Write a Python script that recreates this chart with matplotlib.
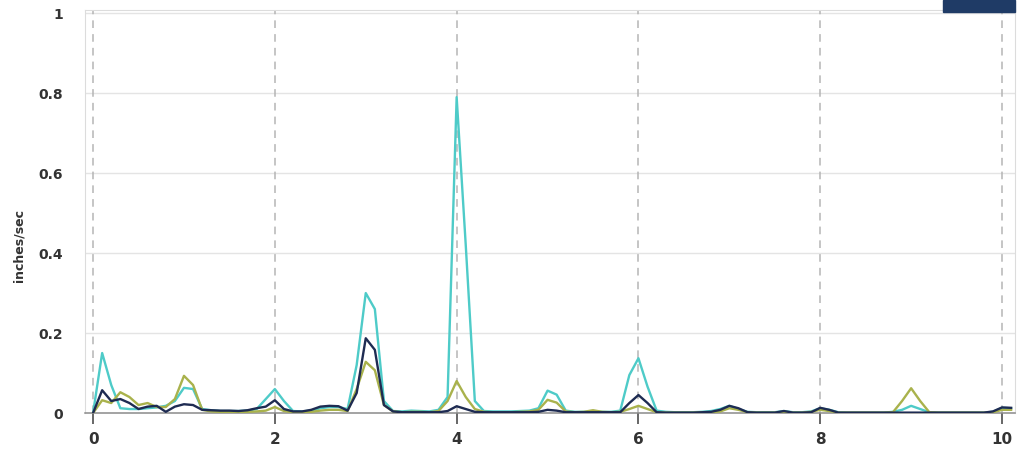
import numpy as np
import matplotlib.pyplot as plt
from matplotlib.patches import Rectangle

# sample positions (step 0.1) and the three traces
freq = np.round(np.arange(0, 102) * 0.1, 1)

trace_cyan = [
    0.0, 0.15, 0.07, 0.012, 0.01, 0.01, 0.012, 0.014, 0.018, 0.03,
    0.063, 0.06, 0.01, 0.007, 0.005, 0.005, 0.005, 0.006, 0.01, 0.035,
    0.06, 0.03, 0.005, 0.004, 0.006, 0.012, 0.015, 0.015, 0.01, 0.12,
    0.30, 0.26, 0.03, 0.005, 0.004, 0.006, 0.005, 0.004, 0.008, 0.04,
    0.79, 0.42, 0.03, 0.005, 0.004, 0.004, 0.004, 0.005, 0.006, 0.012,
    0.056, 0.046, 0.006, 0.003, 0.003, 0.004, 0.003, 0.003, 0.006, 0.095,
    0.137, 0.066, 0.006, 0.003, 0.002, 0.002, 0.002, 0.003, 0.005, 0.01,
    0.018, 0.01, 0.003, 0.002, 0.002, 0.002, 0.005, 0.002, 0.002, 0.004,
    0.012, 0.008, 0.002, 0.001, 0.001, 0.001, 0.001, 0.001, 0.003, 0.008,
    0.018, 0.01, 0.002, 0.001, 0.001, 0.001, 0.001, 0.001, 0.001, 0.003,
    0.013, 0.012,
]

trace_olive = [
    0.0, 0.032, 0.025, 0.052, 0.04, 0.02, 0.025, 0.015, 0.015, 0.035,
    0.093, 0.07, 0.008, 0.004, 0.003, 0.003, 0.003, 0.003, 0.004, 0.006,
    0.015, 0.005, 0.002, 0.002, 0.003, 0.006, 0.008, 0.008, 0.005, 0.06,
    0.128, 0.107, 0.02, 0.004, 0.002, 0.003, 0.003, 0.002, 0.005, 0.03,
    0.08, 0.04, 0.01, 0.003, 0.002, 0.002, 0.002, 0.003, 0.004, 0.008,
    0.033, 0.026, 0.004, 0.002, 0.003, 0.007, 0.003, 0.002, 0.003, 0.01,
    0.018, 0.01, 0.002, 0.001, 0.001, 0.001, 0.001, 0.002, 0.002, 0.004,
    0.012, 0.008, 0.002, 0.001, 0.001, 0.001, 0.003, 0.001, 0.001, 0.003,
    0.008, 0.005, 0.001, 0.001, 0.001, 0.001, 0.001, 0.001, 0.002, 0.03,
    0.062, 0.03, 0.002, 0.001, 0.001, 0.001, 0.001, 0.001, 0.001, 0.002,
    0.008, 0.008,
]

trace_navy = [
    0.0, 0.057, 0.03, 0.035, 0.025, 0.01, 0.016, 0.018, 0.003, 0.016,
    0.022, 0.02, 0.008, 0.007, 0.006, 0.006, 0.005, 0.007, 0.012, 0.016,
    0.032, 0.01, 0.004, 0.004, 0.008, 0.016, 0.018, 0.017, 0.006, 0.05,
    0.187, 0.158, 0.02, 0.004, 0.002, 0.002, 0.002, 0.002, 0.002, 0.005,
    0.017, 0.01, 0.003, 0.002, 0.002, 0.002, 0.002, 0.002, 0.002, 0.003,
    0.008, 0.006, 0.002, 0.002, 0.002, 0.002, 0.002, 0.002, 0.002, 0.025,
    0.045, 0.025, 0.002, 0.001, 0.001, 0.001, 0.001, 0.002, 0.003, 0.008,
    0.018, 0.012, 0.002, 0.001, 0.001, 0.001, 0.005, 0.001, 0.001, 0.002,
    0.013, 0.008, 0.001, 0.001, 0.001, 0.001, 0.001, 0.001, 0.001, 0.001,
    0.001, 0.001, 0.001, 0.001, 0.001, 0.001, 0.001, 0.001, 0.001, 0.004,
    0.014, 0.013,
]

x_ticks = [0, 2, 4, 6, 8, 10]
y_ticks = [0, 0.2, 0.4, 0.6, 0.8, 1.0]
y_tick_labels = ['0', '0.2', '0.4', '0.6', '0.8', '1']

fig = plt.figure(figsize=(10.25, 4.62), dpi=100)
ax = fig.add_axes([0.083, 0.106, 0.907, 0.872])

ax.plot(freq, trace_cyan, color='#4ecbc8', lw=1.7, zorder=3)
ax.plot(freq, trace_olive, color='#a9b24c', lw=1.7, zorder=4)
ax.plot(freq, trace_navy, color='#1e2b52', lw=1.7, zorder=5)

ax.set_xlim(-0.088, 10.14)
ax.set_ylim(0, 1.0075)

ax.set_xticks(x_ticks)
ax.set_yticks(y_ticks)
ax.set_yticklabels(y_tick_labels)

# gridlines: dashed vertical, solid light horizontal
for xv in x_ticks:
    ax.axvline(xv, color='#b5b5b5', ls=(0, (5, 4)), lw=1.1, zorder=1)
for yv in y_ticks[1:]:
    ax.axhline(yv, color='#e4e4e4', lw=1.0, zorder=0)

for side in ['left', 'top', 'right']:
    ax.spines[side].set_color('#dcdcdc')
ax.spines['bottom'].set_color('#8a8a8a')
ax.spines['bottom'].set_linewidth(1.1)

ax.tick_params(axis='x', length=8, width=1.4, color='#666666', pad=6,
               labelsize=11, labelcolor='#333333')
ax.tick_params(axis='y', length=0, pad=16, labelsize=10, labelcolor='#333333')
for lbl in ax.get_yticklabels() + ax.get_xticklabels():
    lbl.set_fontweight('bold')

# axis title placed in figure coords so it sits left of the tick labels
fig.text(19 / 1025, 1 - 245 / 462, 'inches/sec', rotation=90, ha='center', va='center',
         fontsize=9, fontweight='bold', color='#333333')

# small dark button at the top right corner
fig.patches.append(Rectangle((943 / 1025, 1 - 12 / 462), 72 / 1025, 12 / 462,
                             transform=fig.transFigure, color='#1f3b66', zorder=10))

fig.savefig('out.png', dpi=100)
